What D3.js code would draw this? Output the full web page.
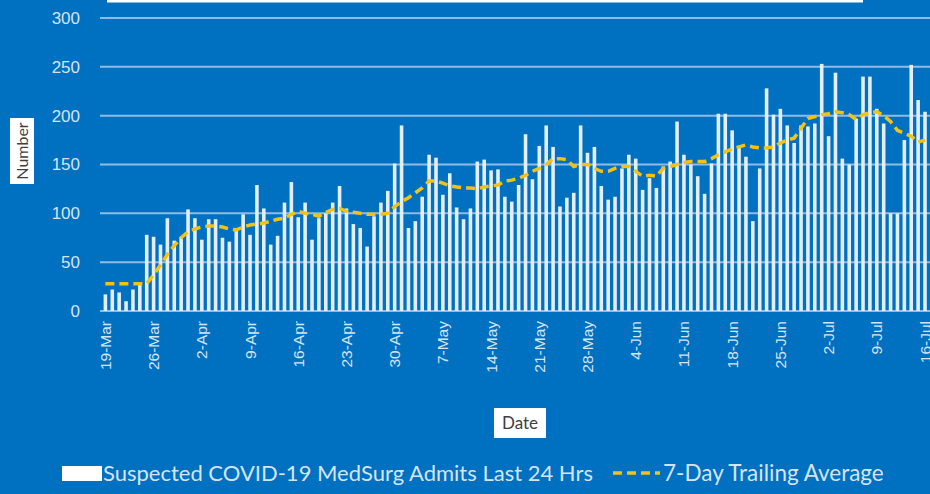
<!DOCTYPE html>
<html>
<head>
<meta charset="utf-8">
<script src="https://cdn.jsdelivr.net/npm/d3@7"></script>
<style>
  body { margin: 0; background: #0070c0; }
  svg { display: block; font-family: Lato, "Open Sans", sans-serif; }
</style>
</head>
<body>
<script>
// first day of the series, one bar per day from here on
var startDate = new Date(2020, 2, 19);

// suspected admits per day (19-Mar .. 16-Jul)
var admits = [
  17, 22, 19, 10, 22, 29, 78, 76, 68, 95, 72, 76, 104, 95, 73, 94, 94, 75, 71, 85,
  99, 78, 129, 105, 68, 77, 111, 132, 96, 111, 73, 95, 100, 111, 128, 105, 89, 85, 66, 97,
  111, 123, 151, 190, 85, 92, 117, 160, 157, 119, 141, 106, 94, 105, 153, 155, 144, 145, 117, 112,
  129, 181, 135, 169, 190, 168, 107, 116, 121, 190, 162, 168, 128, 114, 117, 146, 160, 156, 124, 136,
  126, 148, 153, 194, 160, 150, 138, 120, 151, 202, 202, 185, 168, 158, 92, 146, 228, 201, 207, 190,
  172, 190, 189, 192, 253, 179, 244, 156, 150, 197, 240, 240, 207, 192, 100, 100, 175, 252, 216, 204
];

// 7-day trailing average
var trailingAvg = [
  28, 28, 28, 28, 28, 28, 28, 37, 47, 58, 67, 75, 81, 84, 86, 87, 87, 86, 84, 83,
  86, 88, 89, 90, 92, 94, 95, 99, 102, 100, 99, 97, 101, 104, 105, 102, 101, 100, 99, 99,
  99, 100, 107, 112, 116, 121, 126, 133, 133, 131, 128, 127, 126, 126, 125, 127, 128, 129, 133, 134,
  136, 139, 143, 146, 150, 156, 156, 155, 148, 150, 150, 146, 143, 143, 146, 148, 148, 143, 138, 139,
  138, 146, 148, 150, 152, 153, 153, 153, 156, 160, 163, 166, 168, 170, 168, 167, 167, 168, 172, 175,
  177, 187, 197, 199, 201, 202, 204, 203, 201, 196, 201, 203, 204, 200, 194, 185, 182, 179, 173, 175
];

var tickLabels = ["19-Mar", "26-Mar", "2-Apr", "9-Apr", "16-Apr", "23-Apr", "30-Apr", "7-May",
  "14-May", "21-May", "28-May", "4-Jun", "11-Jun", "18-Jun", "25-Jun", "2-Jul", "9-Jul", "16-Jul"];
var yTicks = [0, 50, 100, 150, 200, 250, 300];

var seriesNames = ["Suspected COVID-19 MedSurg Admits Last 24 Hrs", "7-Day Trailing Average"];

var fmt = d3.timeFormat("%-d-%b");
var days = admits.map(function(d, i) { return fmt(d3.timeDay.offset(startDate, i)); });

var W = 930, H = 494;
var step = 6.86;
var left = 103.6;

var svg = d3.select("body").append("svg")
    .attr("width", W)
    .attr("height", H);

svg.append("rect").attr("width", W).attr("height", H).attr("fill", "#0070c0");

// bottom edge of the title box that is cut off at the top
svg.append("rect")
    .attr("x", 107).attr("y", -10)
    .attr("width", 756).attr("height", 12.5)
    .attr("fill", "#ffffff");

var x = d3.scaleBand()
    .domain(days)
    .range([left, left + step * days.length])
    .paddingInner(0.48);

var y = d3.scaleLinear()
    .domain([0, 300])
    .range([311, 18]);

// gridlines
svg.append("g").selectAll("line")
    .data(yTicks)
  .enter().append("line")
    .attr("x1", 100).attr("x2", W)
    .attr("y1", function(d) { return y(d); })
    .attr("y2", function(d) { return y(d); })
    .attr("stroke", "#8fbce6")
    .attr("stroke-width", 2);

// y axis labels
var yAxis = svg.append("g")
    .attr("transform", "translate(80,0)")
    .call(d3.axisLeft(y).tickValues(yTicks).tickSize(0).tickPadding(0));
yAxis.select(".domain").remove();
yAxis.selectAll("text")
    .attr("fill", "#d6e4f2")
    .attr("font-size", 17);

// bars
svg.append("g").selectAll("rect")
    .data(admits)
  .enter().append("rect")
    .attr("x", function(d, i) { return x(days[i]); })
    .attr("y", function(d) { return y(d); })
    .attr("width", x.bandwidth())
    .attr("height", function(d) { return y(0) - y(d); })
    .attr("fill", "#e3eefa");

// x axis with rotated date labels
var xAxis = svg.append("g")
    .attr("transform", "translate(0," + y(0) + ")")
    .call(d3.axisBottom(x).tickValues(tickLabels).tickSize(0).tickPadding(0));
xAxis.select(".domain").remove();
xAxis.selectAll("text")
    .attr("fill", "#d6e4f2")
    .attr("font-size", 15.5)
    .attr("dy", null)
    .attr("text-anchor", "end")
    .attr("transform", "translate(0,10) rotate(-90)")
    .attr("dominant-baseline", "central");

// trailing average
var line = d3.line()
    .x(function(d, i) { return x(days[i]) + x.bandwidth() / 2; })
    .y(function(d) { return y(d); });

svg.append("path")
    .datum(trailingAvg)
    .attr("d", line)
    .attr("fill", "none")
    .attr("stroke", "#f2c214")
    .attr("stroke-width", 3.5)
    .attr("stroke-dasharray", "9,5");

// axis titles in white boxes
var yTitle = svg.append("g").attr("transform", "translate(22,151) rotate(-90)");
yTitle.append("rect").attr("x", -33).attr("y", -12).attr("width", 66).attr("height", 24).attr("fill", "#fff");
yTitle.append("text").attr("text-anchor", "middle").attr("dy", "0.35em")
    .attr("font-size", 16).attr("fill", "#404040").text("Number");

var xTitle = svg.append("g").attr("transform", "translate(520,423)");
xTitle.append("rect").attr("x", -26).attr("y", -15).attr("width", 52).attr("height", 30).attr("fill", "#fff");
xTitle.append("text").attr("text-anchor", "middle").attr("dy", "0.35em")
    .attr("font-size", 17).attr("fill", "#404040").text("Date");

// legend
var legend = svg.append("g").attr("transform", "translate(0,473)");
legend.append("rect").attr("x", 62).attr("y", -7).attr("width", 40).attr("height", 15).attr("fill", "#fff");
legend.append("text").attr("x", 103).attr("dy", "0.35em")
    .attr("font-size", 22).attr("fill", "#d6e4f2").text(seriesNames[0]);
legend.append("line").attr("x1", 613).attr("x2", 660)
    .attr("stroke", "#f2c214").attr("stroke-width", 3.5).attr("stroke-dasharray", "9,5");
legend.append("text").attr("x", 663).attr("dy", "0.35em")
    .attr("font-size", 22.5).attr("fill", "#d6e4f2").text(seriesNames[1]);
</script>
</body>
</html>
